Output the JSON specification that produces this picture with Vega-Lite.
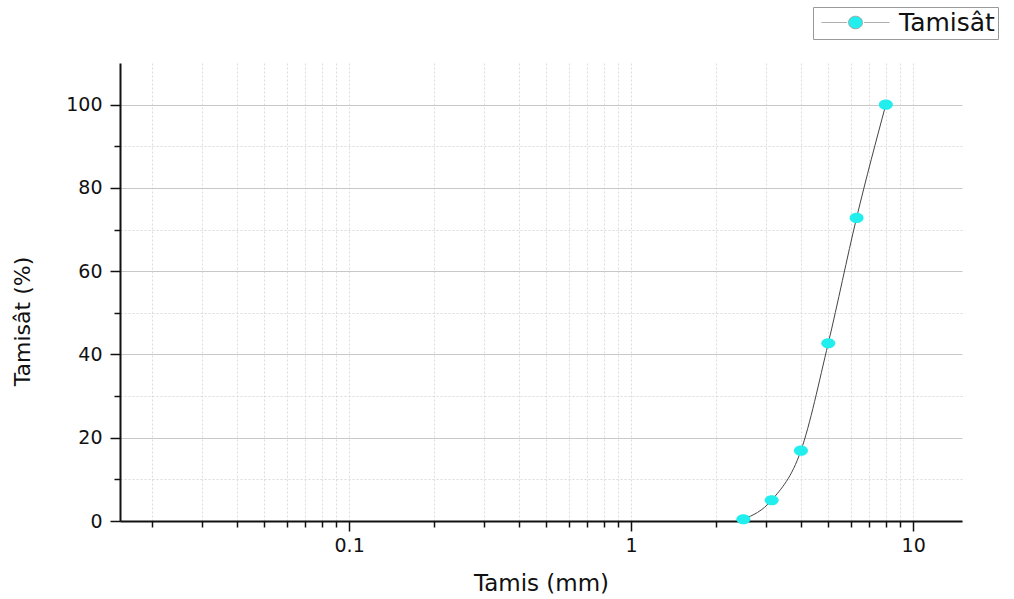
{
  "$schema": "https://vega.github.io/schema/vega-lite/v6.json",
  "width": 842,
  "height": 458,
  "autosize": {"type": "none"},
  "padding": {"left": 120, "top": 63, "right": 52, "bottom": 78},
  "background": "white",
  "config": {"view": {"stroke": null}, "font": "DejaVu Sans"},
  "data": {
    "values": [
      {"size": 2.5, "pass": 0.4, "series": "Tamisât"},
      {"size": 3.15, "pass": 5.0, "series": "Tamisât"},
      {"size": 4, "pass": 16.9, "series": "Tamisât"},
      {"size": 5, "pass": 42.7, "series": "Tamisât"},
      {"size": 6.3, "pass": 72.8, "series": "Tamisât"},
      {"size": 8, "pass": 100, "series": "Tamisât"}
    ]
  },
  "encoding": {
    "x": {
      "field": "size",
      "type": "quantitative",
      "scale": {"type": "log", "domain": [0.0154, 14.9], "nice": false, "zero": false},
      "axis": {
        "title": "Tamis (mm)",
        "values": [0.02, 0.03, 0.04, 0.05, 0.06, 0.07, 0.08, 0.09, 0.1, 0.2, 0.3, 0.4, 0.5, 0.6, 0.7, 0.8, 0.9, 1, 2, 3, 4, 5, 6, 7, 8, 9, 10],
        "labelExpr": "datum.value == 0.1 ? '0.1' : datum.value == 1 ? '1' : datum.value == 10 ? '10' : ''",
        "labelOverlap": false,
        "labelFlush": false,
        "labelFontSize": 19,
        "labelColor": "#111",
        "labelPadding": 5,
        "tickSize": {"condition": {"test": "datum.value == 0.1 || datum.value == 1 || datum.value == 10", "value": 10}, "value": 6},
        "tickColor": "#111",
        "tickWidth": 1.5,
        "domainColor": "#111",
        "domainWidth": 2,
        "grid": true,
        "gridColor": "#dcdcdc",
        "gridDash": [2, 2],
        "gridWidth": 1,
        "titleFontSize": 23,
        "titleFontWeight": "normal",
        "titleColor": "#111",
        "titleY": 62,
        "titleBaseline": "middle"
      }
    },
    "y": {
      "field": "pass",
      "type": "quantitative",
      "scale": {"domain": [0, 110], "nice": false},
      "axis": {
        "title": "Tamisât (%)",
        "values": [0, 10, 20, 30, 40, 50, 60, 70, 80, 90, 100],
        "labelExpr": "datum.value % 20 == 0 ? datum.label : ''",
        "labelFontSize": 19,
        "labelColor": "#111",
        "labelPadding": 8,
        "tickSize": {"condition": {"test": "datum.value % 20 == 0", "value": 10}, "value": 6},
        "tickColor": "#111",
        "tickWidth": 1.5,
        "domainColor": "#111",
        "domainWidth": 2,
        "grid": true,
        "gridColor": {"condition": {"test": "datum.value % 20 == 0", "value": "#c8c8c8"}, "value": "#dadada"},
        "gridDash": {"condition": {"test": "datum.value % 20 == 0", "value": []}, "value": [2, 2]},
        "gridWidth": 1,
        "titleFontSize": 22,
        "titleFontWeight": "normal",
        "titleColor": "#111",
        "titleX": -98,
        "titleY": 258,
        "titleBaseline": "middle"
      }
    }
  },
  "layer": [
    {
      "mark": {"type": "line", "color": "#444", "strokeWidth": 1, "interpolate": "monotone"}
    },
    {
      "mark": {
        "type": "point",
        "filled": true,
        "opacity": 1,
        "size": 196,
        "shape": "M-1,0A1,0.72 0 1,1 1,0A1,0.72 0 1,1 -1,0Z"
      },
      "encoding": {
        "color": {
          "field": "series",
          "type": "nominal",
          "scale": {"range": ["#22eeee"]},
          "legend": {
            "title": null,
            "orient": "none",
            "legendX": 693,
            "legendY": -56,
            "symbolType": "M-4.86,0L-1.2,0M1.2,0L4.86,0M-1,0A1,0.9 0 1,1 1,0A1,0.9 0 1,1 -1,0Z",
            "symbolSize": 196,
            "symbolOffset": 27,
            "symbolStrokeColor": "#999",
            "symbolStrokeWidth": 0.8,
            "labelFontSize": 25,
            "labelColor": "#111",
            "labelOffset": 31,
            "padding": 3,
            "strokeColor": "#999",
            "cornerRadius": 0
          }
        }
      }
    }
  ]
}
